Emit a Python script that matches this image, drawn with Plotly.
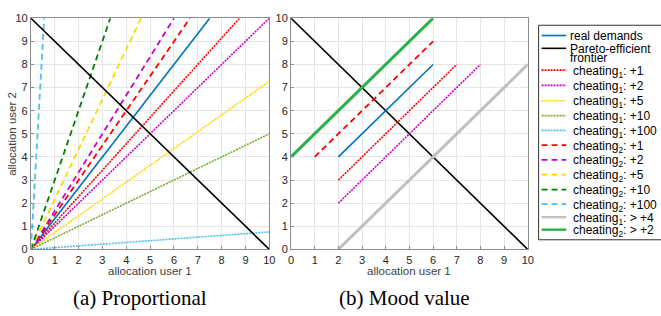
import plotly.graph_objects as go

W, H = 661, 316

# ---------------- data ----------------
ticks = list(range(0, 11))
tick_labels = [str(t) for t in ticks]

# Pareto-efficient frontier (both panels)
pareto_x = [0, 10]
pareto_y = [10, 0]

# (a) Proportional: rays from origin to the border of the box
prop_names = ["real demands",
              "c1+1", "c1+2", "c1+5", "c1+10", "c1+100",
              "c2+1", "c2+2", "c2+5", "c2+10", "c2+100"]
prop_x_end = [7.5, 8.75, 10.0, 10.0, 10.0, 10.0, 6.67, 6.0, 4.62, 3.33, 0.556]
prop_y_end = [10.0, 10.0, 10.0, 7.27, 5.0, 0.755, 10.0, 10.0, 10.0, 10.0, 10.0]

# (b) Mood value: segments
mood_names = ["real demands", "c1+1", "c1+2", "c2+1", "c1>4", "c2>2"]
mood_x0 = [2, 2, 2, 1, 2, 0]
mood_y0 = [4, 3, 2, 4, 0, 4]
mood_x1 = [6, 7, 8, 6, 10, 6]
mood_y1 = [8, 8, 8, 9, 8, 10]

# legend labels
legend_labels = ["real demands", "Pareto-efficient", "frontier",
                 "cheating<sub>1</sub>: +1", "cheating<sub>1</sub>: +2",
                 "cheating<sub>1</sub>: +5", "cheating<sub>1</sub>: +10",
                 "cheating<sub>1</sub>: +100",
                 "cheating<sub>2</sub>: +1", "cheating<sub>2</sub>: +2",
                 "cheating<sub>2</sub>: +5", "cheating<sub>2</sub>: +10",
                 "cheating<sub>2</sub>: +100",
                 "cheating<sub>1</sub>: > +4", "cheating<sub>2</sub>: > +2"]

# ---------------- styles ----------------
BLUE = "#0072BD"
RED = "#FF0000"
MAG = "#CC00CC"
YEL = "#FFD700"
OLIVE = "#77AC30"
CYAN = "#4DBEEE"
DGREEN = "#008000"
GRAY = "#C0C0C0"
GREEN = "#2AB04A"
DOT = "2px,1px"
DASH = "6px,4px"

style = {
    "real demands": dict(color=BLUE, width=1.6, dash="solid"),
    "pareto": dict(color="black", width=1.6, dash="solid"),
    "c1+1": dict(color=RED, width=1.6, dash=DOT),
    "c1+2": dict(color=MAG, width=1.6, dash=DOT),
    "c1+5": dict(color=YEL, width=1.6, dash=DOT),
    "c1+10": dict(color=OLIVE, width=1.6, dash=DOT),
    "c1+100": dict(color=CYAN, width=1.6, dash=DOT),
    "c2+1": dict(color=RED, width=1.8, dash=DASH),
    "c2+2": dict(color=MAG, width=1.8, dash=DASH),
    "c2+5": dict(color=YEL, width=1.8, dash=DASH),
    "c2+10": dict(color=DGREEN, width=1.8, dash=DASH),
    "c2+100": dict(color=CYAN, width=1.8, dash=DASH),
    "c1>4": dict(color=GRAY, width=3, dash="solid"),
    "c2>2": dict(color=GREEN, width=3, dash="solid"),
}

fig = go.Figure()

# panel (a)
for n, xe, ye in zip(prop_names, prop_x_end, prop_y_end):
    fig.add_trace(go.Scatter(x=[0, xe], y=[0, ye], mode="lines",
                             line=style[n], showlegend=False,
                             xaxis="x", yaxis="y", hoverinfo="skip"))
fig.add_trace(go.Scatter(x=pareto_x, y=pareto_y, mode="lines",
                         line=style["pareto"], showlegend=False,
                         xaxis="x", yaxis="y"))

# panel (b)
fig.add_trace(go.Scatter(x=pareto_x, y=pareto_y, mode="lines",
                         line=style["pareto"], showlegend=False,
                         xaxis="x2", yaxis="y2"))
for n, a, b, c, d in zip(mood_names, mood_x0, mood_y0, mood_x1, mood_y1):
    fig.add_trace(go.Scatter(x=[a, c], y=[b, d], mode="lines",
                             line=style[n], showlegend=False,
                             xaxis="x2", yaxis="y2", hoverinfo="skip"))

# ---------------- layout ----------------
def px_x(p):
    return p / W

def px_y(p):
    return 1 - p / H

ydom = [px_y(253), px_y(12.7)]
axis_common = dict(range=[0, 10], tickvals=ticks, ticktext=tick_labels,
                   showgrid=True, gridcolor="#E6E6E6", gridwidth=1,
                   showline=True, linecolor="#8C8C8C", linewidth=1,
                   mirror=True, ticks="inside", ticklen=3,
                   tickcolor="#8C8C8C", zeroline=False,
                   tickfont=dict(family="Liberation Sans, Arial", size=11,
                                 color="#262626"),
                   fixedrange=True)

fig.update_layout(
    width=W, height=H,
    margin=dict(l=0, r=0, t=0, b=0),
    paper_bgcolor="white", plot_bgcolor="white",
    showlegend=False,
    xaxis=dict(domain=[px_x(28.3), px_x(270)], anchor="y", **axis_common),
    yaxis=dict(domain=ydom, anchor="x", **axis_common),
    xaxis2=dict(domain=[px_x(292), px_x(532)], anchor="y2", **axis_common),
    yaxis2=dict(domain=ydom, anchor="x2", **axis_common),
)

ann = []
tfont = dict(family="Liberation Sans, Arial", size=11.5, color="#404040")
common_ann = dict(xref="paper", yref="paper", showarrow=False,
                  xanchor="center", yanchor="middle")
ann.append(dict(text="allocation user 1", x=px_x(149), y=px_y(275),
                font=tfont, **common_ann))
ann.append(dict(text="allocation user 1", x=px_x(412), y=px_y(275),
                font=tfont, **common_ann))
ann.append(dict(text="allocation user 2", x=px_x(9), y=px_y(133),
                font=tfont, textangle=-90, **common_ann))
cfont = dict(family="Liberation Serif, Times New Roman", size=21, color="black")
ann.append(dict(text="(a) Proportional", x=px_x(139), y=px_y(303.5),
                font=cfont, **common_ann))
ann.append(dict(text="(b) Mood value", x=px_x(407), y=px_y(303.5),
                font=cfont, **common_ann))

# ---------------- manual legend ----------------
shapes = []
shapes.append(dict(type="rect", xref="paper", yref="paper",
                   x0=px_x(543), x1=px_x(668), y0=px_y(243), y1=px_y(20),
                   line=dict(color="#333333", width=1), fillcolor="white",
                   layer="above"))
leg_keys = ["real demands", "pareto",
            "c1+1", "c1+2", "c1+5", "c1+10", "c1+100",
            "c2+1", "c2+2", "c2+5", "c2+10", "c2+100", "c1>4", "c2>2"]
leg_line_y = [30.7, 44, 66.7, 82.5, 98.5, 114, 129.3, 144.7, 160, 175.3,
              190.8, 206, 219.5, 232.5]
for k, yy in zip(leg_keys, leg_line_y):
    st = style[k]
    shapes.append(dict(type="line", xref="paper", yref="paper",
                       x0=px_x(546), x1=px_x(571), y0=px_y(yy), y1=px_y(yy),
                       line=dict(color=st["color"], width=min(st["width"], 2.4),
                                 dash=st["dash"]),
                       layer="above"))

lfont = dict(family="Liberation Sans, Arial", size=12, color="black")
leg_text_y = [30.7, 44.5, 54.5] + [yy + 1.5 for yy in leg_line_y[2:]]
for i, (lab, yy) in enumerate(zip(legend_labels, leg_text_y)):
    xx = 572.5 if i < 3 else 575.5
    ann.append(dict(text=lab, x=px_x(xx), y=px_y(yy), xref="paper",
                    yref="paper", xanchor="left", yanchor="middle",
                    showarrow=False, font=lfont))

fig.update_layout(annotations=ann, shapes=shapes)

fig.write_html("out.html",
               config={"displayModeBar": False},
               post_script="document.body.style.margin='0px';"
                           "document.body.style.overflow='hidden';")
